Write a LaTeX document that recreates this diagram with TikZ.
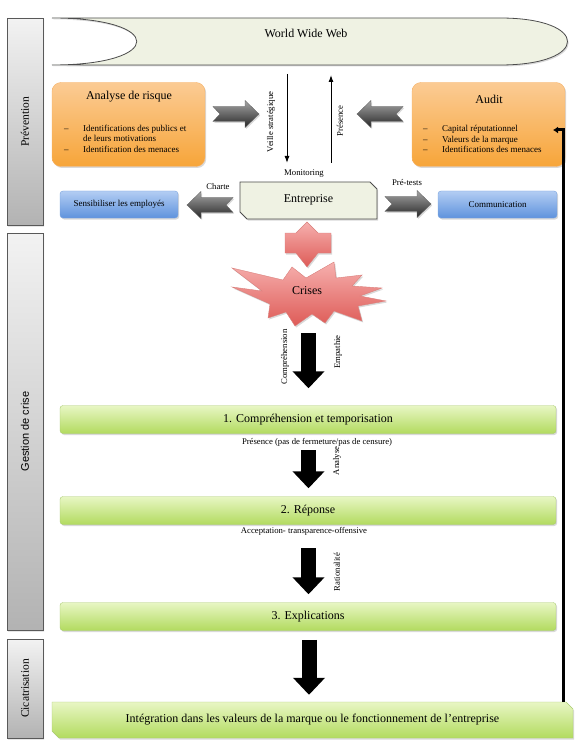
\documentclass[tikz,border=0pt]{standalone}
\usepackage{fontspec}
\setmainfont{Liberation Serif}
\newfontfamily\gestionfont{Liberation Sans}
\usetikzlibrary{
    positioning,
    calc,
    arrows.meta,
    shapes.misc,
    shadows
}
\definecolor{webfill}{HTML}{EFF2E3}
\definecolor{orangetop}{HTML}{FBCB94}
\definecolor{orangebot}{HTML}{F7A539}
\definecolor{orangeline}{HTML}{F6B36A}
\definecolor{bluetop}{HTML}{B3CDF3}
\definecolor{bluebot}{HTML}{5F93DD}
\definecolor{blueline}{HTML}{7AA4DE}
\definecolor{greentop}{HTML}{E8F6C4}
\definecolor{greenbot}{HTML}{B2DB5F}
\definecolor{greenline}{HTML}{A9CB72}
\definecolor{redtop}{HTML}{F6B0AE}
\definecolor{redbot}{HTML}{DE5B57}
\definecolor{redline}{HTML}{D9807C}
\newcommand{\diagtitle}{\fontsize{12}{14}\selectfont}
\newcommand{\diaglabel}{\fontsize{8.7}{10}\selectfont}
\newcommand{\diagbullet}{\fontsize{9}{10.5}\selectfont}
\tikzset{
    softshadow/.style={drop shadow={opacity=0.3,shadow xshift=1.2pt,shadow yshift=-1.5pt}},
    phasetab/.style={chamfered rectangle, chamfered rectangle corners={north east,south west},
        chamfered rectangle xsep=4pt, chamfered rectangle ysep=4pt, inner sep=0pt,
        minimum width=36pt, draw=black!65, line width=0.8pt,
        top color=black!5, bottom color=black!30, softshadow},
    tablabel/.style={rotate=90, font=\fontsize{11.5}{13}\selectfont},
    riskbox/.style={rounded corners=9pt, draw=orangeline, top color=orangetop, bottom color=orangebot,
        minimum width=153pt, minimum height=84pt, softshadow},
    bluebox/.style={rounded corners=3pt, draw=blueline, top color=bluetop, bottom color=bluebot,
        minimum height=27pt, font=\fontsize{9}{11}\selectfont, softshadow},
    stepbox/.style={rounded corners=3pt, draw=greenline, top color=greentop, bottom color=greenbot,
        minimum width=496pt, minimum height=28pt, font=\diagtitle, softshadow},
    firmbox/.style={chamfered rectangle, chamfered rectangle corners={north east,south west},
        chamfered rectangle xsep=3.5pt, chamfered rectangle ysep=3.5pt, inner sep=0pt,
        draw=black!70, line width=0.8pt, fill=webfill, softshadow},
    bullets/.style={anchor=north west, inner sep=0pt, align=left, font=\diagbullet},
    lbl/.style={font=\diaglabel, inner sep=1pt},
    thinarrow/.style={line width=1pt, -{Latex[length=7pt,width=5pt]}},
    bigarrow/.style={line width=15pt, -{Triangle[length=17pt,width=31pt]}},
    feedback/.style={line width=3pt, -{Latex[length=5pt,width=7pt]}},
    pics/greyarrow/.style={code={
        \path[draw=black!60, top color=black!35, bottom color=black!85, softshadow]
            (0,-7.5) -- (32,-7.5) -- (32,-13.5) -- (46,0) -- (32,13.5) -- (32,7.5) -- (0,7.5) -- (7,0) -- cycle;
    }}
}

\begin{document}
\begin{tikzpicture}[x=1pt,y=-1pt]
\useasboundingbox (0,0) rectangle (579,751);

% phases
\node[phasetab, minimum height=207pt] (prevtab) at (25,121.5) {};
\node[phasetab, minimum height=397pt] (gestab) at (25,431.5) {};
\node[phasetab, minimum height=99pt] (cictab) at (25,688.5) {};
\node[tablabel] (prevlabel) at (prevtab) {Prévention};
\node[tablabel, font=\gestionfont\fontsize{11}{13}\selectfont] (geslabel) at (gestab) {Gestion de crise};
\node[tablabel] (ciclabel) at (cictab) {Cicatrisation};

% world wide web
\draw[draw=black!70, line width=0.8pt, fill=webfill, softshadow]
    (52,18) -- (500,18) .. controls (590,18) and (590,65) .. (500,65) -- (52,65)
    .. controls (165,65) and (165,18) .. (52,18) -- cycle;
\node[font=\diagtitle] (www) at (306,33) {World Wide Web};

% prevention
\node[riskbox] (risque) at (128.5,124.5) {};
\node[font=\diagtitle] (risquetitle) at (129,97) {Analyse de risque};
\node[bullets] (risquelist) at (64,124.5)
    {\makebox[19pt][l]{--}Identifications des publics et\\
     \hspace*{19pt}de leurs motivations\\
     \makebox[19pt][l]{--}Identification des menaces};

\node[riskbox] (audit) at (488.5,124.5) {};
\node[font=\diagtitle] (audittitle) at (489,99) {Audit};
\node[bullets] (auditlist) at (423,125.5)
    {\makebox[19pt][l]{--}Capital réputationnel\\
     \makebox[19pt][l]{--}Valeurs de la marque\\
     \makebox[19pt][l]{--}Identifications des menaces};

\pic at (213,114) {greyarrow};
\pic[xscale=-1] at (403,114) {greyarrow};

\coordinate (veilletop) at (287,74);
\coordinate (veillebot) at (287,163);
\coordinate (presbot) at (331,163);
\coordinate (prestop) at (331,75);
\draw[thinarrow] (veilletop) -- (veillebot);
\draw[thinarrow] (presbot) -- (prestop);
\node[lbl, rotate=90] (veille) at (271,122) {Veille stratégique};
\node[lbl, rotate=90] (presence) at (340,121) {Présence};
\node[lbl] (monitoring) at (304,174) {Monitoring};

\node[firmbox, minimum width=137pt, minimum height=37pt, font=\diagtitle] (entreprise) at (308.5,200.5)
    {\raisebox{4pt}{Entreprise}};
\node[bluebox, minimum width=118pt] (sensibiliser) at (119,204.5) {Sensibiliser les employés};
\node[bluebox, minimum width=119pt] (communication) at (497.5,204.5) {Communication};
\pic[xscale=-1] at (233,205) {greyarrow};
\pic at (385,204) {greyarrow};
\node[lbl] (charte) at (218,187) {Charte};
\node[lbl] (pretests) at (407,183) {Pré-tests};

% crise
\path[draw=redline, top color=redtop, bottom color=redbot, softshadow]
    (307,222) -- (318,233) -- (331,233) -- (331,253) -- (318,253) -- (307,267)
    -- (296,253) -- (285,253) -- (285,233) -- (296,233) -- cycle;
\path[draw=redline, top color=redtop, bottom color=redbot, softshadow]
    (232,268) -- (283,280) -- (292,267) -- (306,278) -- (334,262) -- (336,278)
    -- (362,275) -- (352,286) -- (382,288) -- (360,296) -- (386,301) -- (358,306)
    -- (362,321) -- (334,311) -- (325,323) -- (312,314) -- (295,326) -- (286,312)
    -- (268,318) -- (270,304) -- (232,287) -- (262,291) -- cycle;
\node[font=\diagtitle] (crises) at (307,291) {Crises};

\node[stepbox] (stepone) at (308,419.5) {1. Compréhension et temporisation};
\node[stepbox] (steptwo) at (308,510.5) {2. Réponse};
\node[stepbox] (stepthree) at (308,616.5) {3. Explications};
\node[firmbox, minimum width=521pt, minimum height=36pt, draw=greenline, line width=0.4pt,
    top color=greentop, bottom color=greenbot, font=\diagtitle] (final) at (312.5,720)
    {\raisebox{3pt}{Intégration dans les valeurs de la marque ou le fonctionnement de l’entreprise}};

\draw[bigarrow] ($(stepone.north)+(0.5,-72)$) -- ($(stepone.north)+(0.5,-17)$);
\draw[bigarrow] ($(steptwo.north)+(0.5,-46)$) -- ($(steptwo.north)+(0.5,-8)$);
\draw[bigarrow] ($(stepthree.north)+(0.5,-54)$) -- ($(stepthree.north)+(0.5,-8)$);
\draw[bigarrow] ($(final.north)+(-3.5,-62)$) -- ($(final.north)+(-3.5,-7)$);

\node[lbl, rotate=90] (comprehension) at (285,357) {Compréhension};
\node[lbl, rotate=90] (empathie) at (338,352) {Empathie};
\node[lbl] (presencenote) at (317,442) {Présence (pas de fermeture/pas de censure)};
\node[lbl, rotate=90] (analyse) at (337,461) {Analyse};
\node[lbl] (acceptation) at (304,531) {Acceptation- transparence-offensive};
\node[lbl, rotate=90] (rationalite) at (337,572) {Rationalité};

% retour vers l'audit
\coordinate (loopstart) at (563,702);
\coordinate (loopend) at (553,130);
\draw[feedback] (loopstart) |- (loopend);
\end{tikzpicture}
\end{document}
